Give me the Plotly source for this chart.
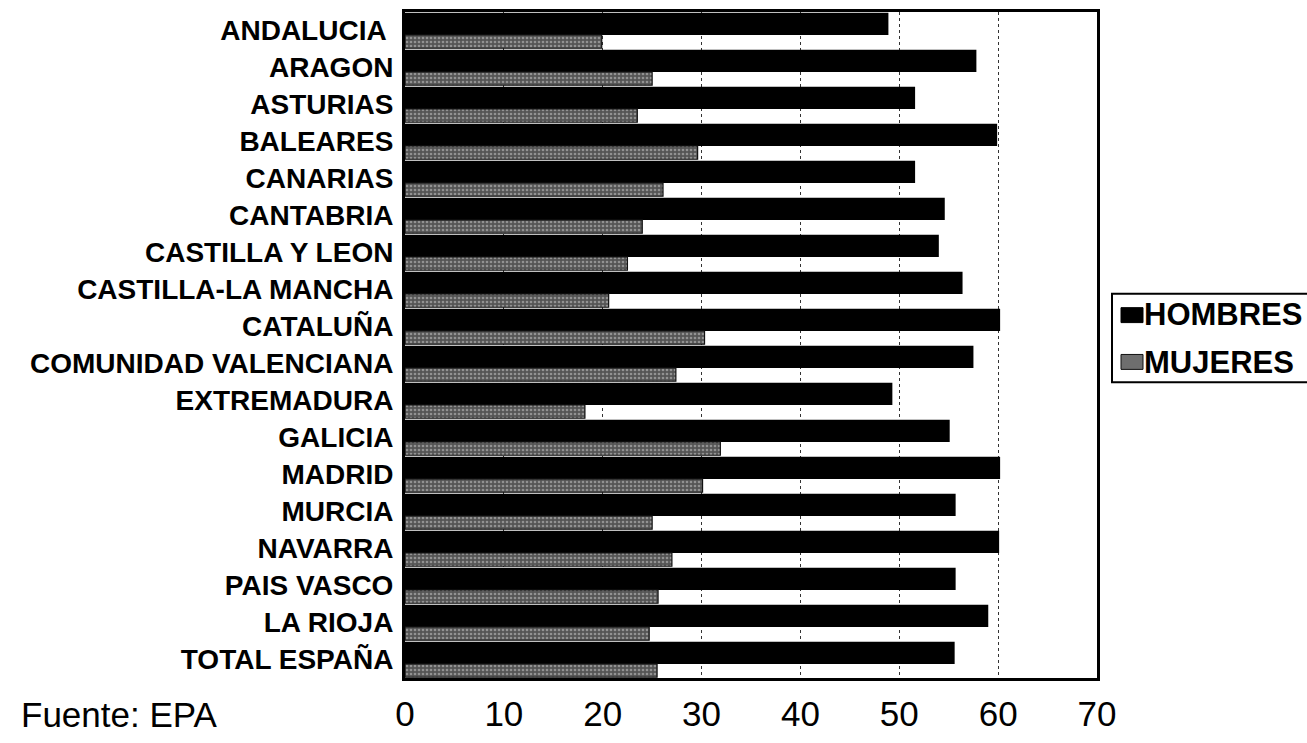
import plotly.graph_objects as go

regiones = ["ANDALUCIA ", "ARAGON", "ASTURIAS", "BALEARES", "CANARIAS", "CANTABRIA",
            "CASTILLA Y LEON", "CASTILLA-LA MANCHA", "CATALUÑA", "COMUNIDAD VALENCIANA",
            "EXTREMADURA", "GALICIA", "MADRID", "MURCIA", "NAVARRA", "PAIS VASCO",
            "LA RIOJA", "TOTAL ESPAÑA"]
hombres = [48.9, 57.8, 51.6, 59.9, 51.6, 54.6, 54.0, 56.4, 60.2, 57.5,
           49.3, 55.1, 60.2, 55.7, 60.1, 55.7, 59.0, 55.6]
mujeres = [19.9, 25.0, 23.5, 29.6, 26.1, 24.0, 22.5, 20.6, 30.3, 27.4,
           18.2, 31.9, 30.1, 25.0, 27.0, 25.6, 24.7, 25.5]
x_ticks = [0, 10, 20, 30, 40, 50, 60, 70]
series_names = ["HOMBRES", "MUJERES"]

W, H = 1307, 743
L, R, T, B = 405, 210, 9, 65
PW, PH = W - L - R, H - T - B
FONT = "Liberation Sans, Arial, Helvetica, sans-serif"


def xp(px):
    return (px - L) / PW


def yp(py):
    return 1 - (py - T) / PH


n = len(regiones)
fig = go.Figure()
fig.add_trace(go.Bar(
    y=list(range(n)), x=hombres, orientation="h", name=series_names[0],
    offset=-0.48, width=0.6,
    marker=dict(color="#000000", line=dict(color="#000000", width=0)),
    showlegend=False,
))
fig.add_trace(go.Bar(
    y=list(range(n)), x=mujeres, orientation="h", name=series_names[1],
    offset=0.12, width=0.36,
    marker=dict(color="#808080", line=dict(color="#111111", width=1.2),
                pattern=dict(shape=".", fgcolor="#cfcfcf", bgcolor="#555555",
                             size=4, solidity=0.35)),
    showlegend=False,
))

fig.update_layout(
    width=W, height=H,
    margin=dict(l=L, r=R, t=T, b=B, pad=0),
    paper_bgcolor="white", plot_bgcolor="white",
    barmode="overlay",
    font=dict(family=FONT, color="black"),
    xaxis=dict(
        range=[0, 70], tickvals=x_ticks, ticktext=[str(v) for v in x_ticks],
        showgrid=True, gridcolor="#333333", gridwidth=1, griddash="dot",
        showline=True, linecolor="black", linewidth=2.5, mirror=True,
        ticks="", zeroline=False, ticklabelstandoff=3,
        tickfont=dict(family=FONT, size=35, color="black"),
    ),
    yaxis=dict(
        tickvals=list(range(n)), ticktext=regiones,
        range=[n - 0.5, -0.5],
        showgrid=False, showline=True, linecolor="black", linewidth=3, mirror=True,
        ticks="", ticklabelstandoff=3, zeroline=False,
        tickfont=dict(family=FONT, size=28, color="black", weight="bold"),
    ),
)

# Source note
fig.add_annotation(
    text="Fuente: EPA", xref="paper", yref="paper",
    x=xp(19), y=yp(715), xanchor="left", yanchor="middle",
    showarrow=False, font=dict(family=FONT, size=35, color="black"),
)

# Legend (manual)
fig.add_shape(type="rect", xref="paper", yref="paper",
              x0=xp(1112), x1=xp(1330), y0=yp(292), y1=yp(381),
              line=dict(color="black", width=2), fillcolor="white", layer="above")
fig.add_shape(type="rect", xref="paper", yref="paper",
              x0=xp(1121), x1=xp(1143), y0=yp(306), y1=yp(321),
              line=dict(color="black", width=1), fillcolor="black", layer="above")
fig.add_shape(type="rect", xref="paper", yref="paper",
              x0=xp(1121), x1=xp(1143), y0=yp(353), y1=yp(368),
              line=dict(color="#111111", width=1), fillcolor="#6e6e6e", layer="above")
for name, cy in zip(series_names, [313, 361]):
    fig.add_annotation(
        text=name, xref="paper", yref="paper",
        x=xp(1142), y=yp(cy), xanchor="left", yanchor="middle",
        showarrow=False, font=dict(family=FONT, size=31, color="black", weight="bold"),
    )

fig.write_html("out.html")
